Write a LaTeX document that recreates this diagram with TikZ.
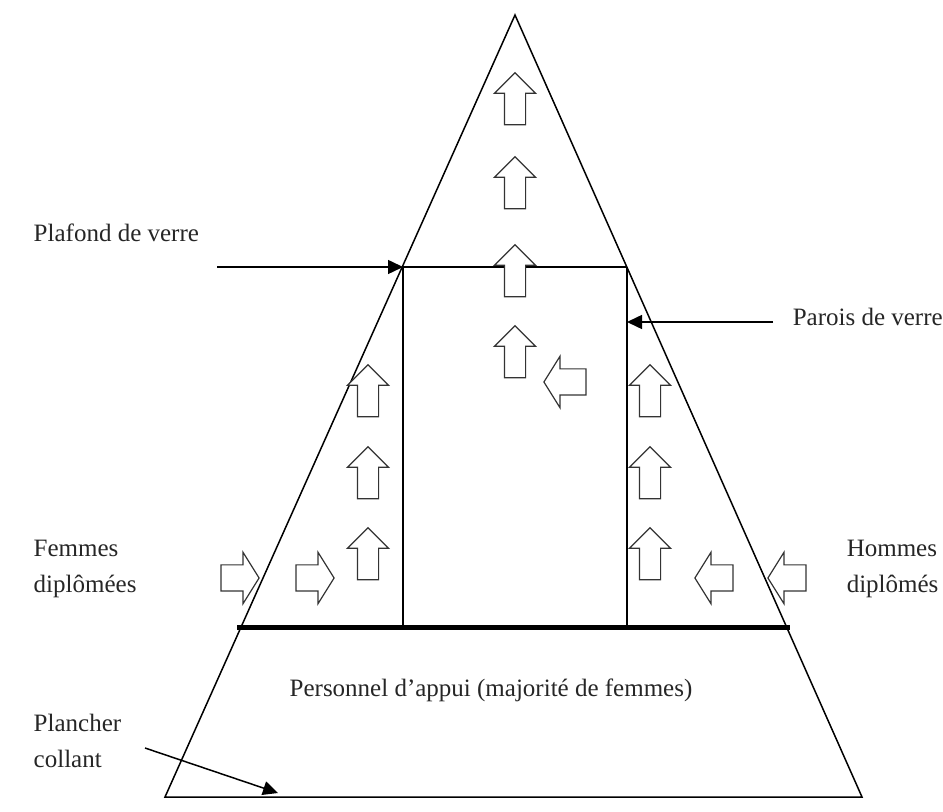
\documentclass[tikz,border=0pt]{standalone}
\usepackage{fontspec}
\setmainfont{Liberation Serif}
\usetikzlibrary{arrows.meta,shapes.arrows,positioning,calc}

\begin{document}
\begin{tikzpicture}[x=0.5pt, y=-0.5pt, line width=0.75pt,
  lbl/.style={font=\fontsize{12.5}{18}\selectfont, text=black!85, inner sep=0pt},
  blockarr/.style={single arrow, draw=black!80, fill=white, line width=0.6pt},
  uparr/.style={blockarr, rotate=90, inner sep=5pt, minimum height=26pt,
    single arrow head extend=5pt, single arrow tip angle=90},
  rarr/.style={blockarr, inner sep=6.25pt, minimum height=19pt,
    single arrow head extend=6.25pt, single arrow tip angle=116},
  larr/.style={rarr, rotate=180},
  tip/.style={-{Triangle[length=7.5pt, width=7pt]}}]
  \useasboundingbox (0,0) rectangle (943,812);
  % pyramid
  \coordinate (apex) at (515,15);
  \coordinate (bl) at (165,797);
  \coordinate (br) at (862,797);
  \coordinate (cl) at (403,267);
  \coordinate (cr) at (627,267);
  \coordinate (fl) at (403,627);
  \coordinate (fr) at (627,627);
  \coordinate (sl) at (237,627);
  \coordinate (sr) at (790,627);
  \draw[line join=miter] (apex) -- (bl) -- (br) -- cycle;
  \draw (cl) -- (cr);
  \draw (cl) -- (fl);
  \draw (cr) -- (fr);
  \draw[line width=2.5pt] (sl) -- (sr);
  % labels
  \node[lbl, anchor=west] (plafond) at (33,233) {Plafond de verre};
  \node[lbl, anchor=west] (parois) at (792,317) {Parois de verre};
  \node[lbl, anchor=west, align=left] (femmes) at (33,569) {Femmes\\diplômées};
  \node[lbl, anchor=west, align=left] (hommes) at (846,569) {Hommes\\diplômés};
  \node[lbl] (appui) at (491,690) {Personnel d'appui (majorité de femmes)};
  \node[lbl, anchor=west, align=left] (plancher) at (33,741) {Plancher\\collant};
  % pointers
  \coordinate (plafondfrom) at (217,267);
  \coordinate (paroisfrom) at (773,322);
  \coordinate (paroisto) at (627,322);
  \coordinate (plancherfrom) at (145,748);
  \coordinate (plancherto) at (278,793);
  \draw[tip] (plafondfrom) -- (cl);
  \draw[tip] (paroisfrom) -- (paroisto);
  \draw[tip] (plancherfrom) -- (plancherto);
  % mobility arrows
  \node[uparr] (c1) at (515,104) {};
  \node[uparr] (c2) at (515,188) {};
  \node[uparr] (c3) at (515,276) {};
  \node[uparr] (c4) at (515,357) {};
  \node[larr, minimum height=21pt] (c5) at (569,382) {};
  \node[uparr] (w1) at (368,396) {};
  \node[uparr] (w2) at (368,478) {};
  \node[uparr] (w3) at (368,559) {};
  \node[uparr] (m1) at (650,396) {};
  \node[uparr] (m2) at (650,478) {};
  \node[uparr] (m3) at (650,559) {};
  \node[rarr] (f1) at (236,578) {};
  \node[rarr] (f2) at (311,578) {};
  \node[larr] (h1) at (718,578) {};
  \node[larr] (h2) at (791,578) {};
\end{tikzpicture}
\end{document}
